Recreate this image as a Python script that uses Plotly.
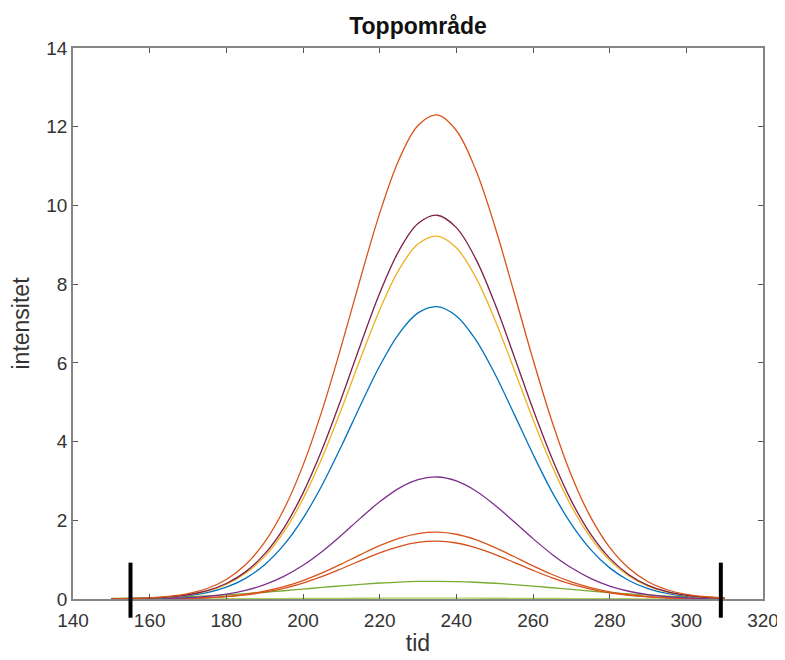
import plotly.graph_objects as go

# ---- data ----
tid = [150, 155, 160, 165, 170, 175, 180, 185, 190, 195, 200, 205, 210, 215, 220, 225,
       230, 235, 240, 245, 250, 255, 260, 265, 270, 275, 280, 285, 290, 295, 300, 305, 310]

topp_1 = [0.005, 0.014, 0.031, 0.066, 0.137, 0.267, 0.496, 0.870, 1.444, 2.274, 3.395, 4.798,
          6.426, 8.152, 9.798, 11.156, 12.033, 12.300, 11.904, 10.917, 9.485, 7.807, 6.087,
          4.497, 3.146, 2.086, 1.310, 0.780, 0.439, 0.235, 0.118, 0.057, 0.026]
topp_2 = [0.004, 0.011, 0.024, 0.053, 0.108, 0.212, 0.393, 0.689, 1.145, 1.803, 2.691, 3.803,
          5.093, 6.462, 7.767, 8.843, 9.538, 9.750, 9.436, 8.654, 7.518, 6.188, 4.825,
          3.565, 2.494, 1.654, 1.038, 0.618, 0.348, 0.186, 0.094, 0.045, 0.020]
topp_3 = [0.004, 0.010, 0.023, 0.050, 0.102, 0.200, 0.372, 0.652, 1.082, 1.705, 2.545, 3.597,
          4.817, 6.111, 7.345, 8.363, 9.020, 9.220, 8.923, 8.184, 7.110, 5.852, 4.563,
          3.371, 2.358, 1.564, 0.982, 0.585, 0.329, 0.176, 0.089, 0.042, 0.019]
topp_4 = [0.003, 0.008, 0.019, 0.040, 0.082, 0.161, 0.299, 0.525, 0.872, 1.374, 2.051, 2.898,
          3.881, 4.925, 5.919, 6.739, 7.269, 7.430, 7.191, 6.595, 5.729, 4.716, 3.677,
          2.716, 1.901, 1.260, 0.791, 0.471, 0.265, 0.142, 0.071, 0.034, 0.016]
topp_5 = [0.001, 0.003, 0.008, 0.017, 0.034, 0.067, 0.125, 0.219, 0.364, 0.573, 0.856, 1.209,
          1.619, 2.055, 2.469, 2.812, 3.033, 3.100, 3.000, 2.752, 2.390, 1.968, 1.534,
          1.133, 0.793, 0.526, 0.330, 0.197, 0.111, 0.059, 0.030, 0.014, 0.007]
topp_6 = [0.001, 0.002, 0.004, 0.009, 0.019, 0.037, 0.069, 0.120, 0.200, 0.314, 0.469, 0.663,
          0.888, 1.127, 1.354, 1.542, 1.663, 1.700, 1.645, 1.509, 1.311, 1.079, 0.841,
          0.622, 0.435, 0.288, 0.181, 0.108, 0.061, 0.032, 0.016, 0.008, 0.004]
topp_7 = [0.001, 0.002, 0.004, 0.008, 0.016, 0.032, 0.059, 0.104, 0.173, 0.272, 0.406, 0.573,
          0.768, 0.974, 1.171, 1.333, 1.438, 1.470, 1.423, 1.305, 1.134, 0.933, 0.728,
          0.537, 0.376, 0.249, 0.157, 0.093, 0.052, 0.028, 0.014, 0.007, 0.003]
topp_8 = [0.014, 0.021, 0.030, 0.043, 0.059, 0.080, 0.106, 0.136, 0.171, 0.210, 0.252, 0.294,
          0.336, 0.374, 0.406, 0.431, 0.446, 0.450, 0.443, 0.426, 0.400, 0.367, 0.328,
          0.286, 0.243, 0.202, 0.164, 0.130, 0.100, 0.075, 0.055, 0.040, 0.028]
topp_9 = [0.000, 0.001, 0.001, 0.002, 0.003, 0.004, 0.006, 0.008, 0.010, 0.012, 0.014, 0.016,
          0.018, 0.019, 0.020, 0.020, 0.021, 0.021, 0.021, 0.020, 0.019, 0.018, 0.016,
          0.014, 0.012, 0.010, 0.008, 0.006, 0.004, 0.003, 0.002, 0.001, 0.001]

serier = [topp_9, topp_8, topp_7, topp_6, topp_5, topp_4, topp_3, topp_2, topp_1]
farger = ["#a9cf5e", "#77ac30", "#d4501c", "#d95319", "#7e2f8e", "#0072bd",
          "#edb120", "#7d1f4a", "#d95319"]

grenser = [155, 309]          # integration limits (black markers)

x_ticks = [140, 160, 180, 200, 220, 240, 260, 280, 300, 320]
y_ticks = [0, 2, 4, 6, 8, 10, 12, 14]

FONT = "Liberation Sans, Arial, Helvetica, sans-serif"

# the page body has an 8 px margin, so the figure is offset by 8 px in x and y
fig = go.Figure()
for verdier, farge in zip(serier, farger):
    fig.add_trace(go.Scatter(x=tid, y=verdier, mode="lines",
                             line=dict(color=farge, width=1.3, shape="spline", smoothing=1.0),
                             showlegend=False, hoverinfo="x+y"))

for g in grenser:
    fig.add_shape(type="line", xref="x", yref="paper", x0=g, x1=g,
                  y0=-0.034, y1=0.066, line=dict(color="black", width=4), layer="above")

axis_common = dict(showline=True, linecolor="#858585", linewidth=1.5, mirror="ticks",
                   ticks="inside", ticklen=5, tickwidth=1, tickcolor="#555555",
                   showgrid=False, zeroline=False, automargin=False,
                   tickfont=dict(family=FONT, size=19, color="#333333"))

fig.update_layout(
    width=785, height=660,
    margin=dict(l=65, r=30, t=40, b=69),
    paper_bgcolor="white", plot_bgcolor="white",
    title=dict(text="<b>Toppområde</b>", x=0.5, xref="paper", xanchor="center",
               y=1 - 18 / 660, yref="container", yanchor="middle",
               font=dict(family=FONT, size=23, color="#111111")),
    xaxis=dict(range=[140, 320], tickmode="array", tickvals=x_ticks, ticklabelstandoff=3,
               title=dict(text="tid", font=dict(family=FONT, size=23, color="#333333"), standoff=5),
               **axis_common),
    yaxis=dict(range=[0, 14], tickmode="array", tickvals=y_ticks,
               title=dict(text="intensitet", font=dict(family=FONT, size=23, color="#333333"), standoff=12),
               **axis_common),
)

fig.write_html("out.html")
